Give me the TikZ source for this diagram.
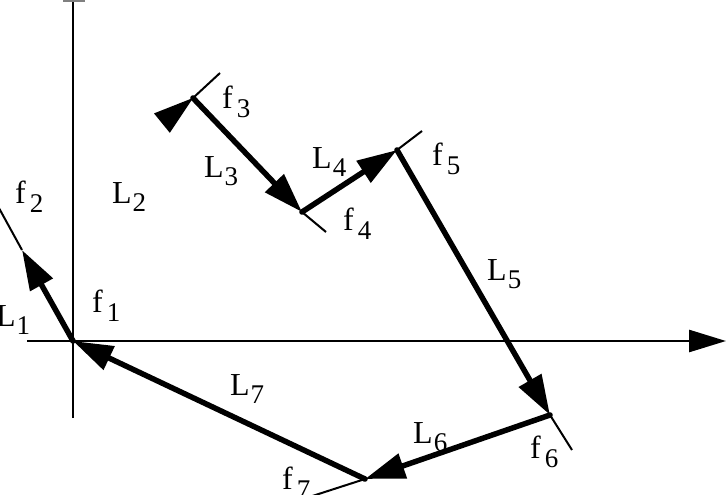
\documentclass[tikz,border=0pt]{standalone}
\usepackage{fontspec}
\setmainfont{Liberation Serif}
\usetikzlibrary{arrows.meta}
\newcommand\fsub[1]{f\kern4pt\raisebox{-9pt}{\fontsize{27}{27}\selectfont #1}}
\newcommand\Lsub[1]{L\kern1pt\raisebox{-8pt}{\fontsize{27}{27}\selectfont #1}}
\begin{document}
\begin{tikzpicture}[x=1pt,y=-1pt,
  link/.style={line width=5.5pt,-{Triangle[length=40pt,width=25pt]}},
  thinline/.style={line width=2pt},
  axisline/.style={line width=2.7pt},
  lab/.style={inner sep=0pt,anchor=base west,font=\fontsize{32}{36}\selectfont}]
\useasboundingbox (0,0) rectangle (728,495);
% joints
\coordinate (O) at (73,341);
\coordinate (P2) at (22,250);
\coordinate (P3) at (193,98);
\coordinate (P4) at (302,212);
\coordinate (P5) at (397,150);
\coordinate (P6) at (550,415);
\coordinate (P7) at (365,479);
% thin frame-line ends
\coordinate (E2) at (-6,199);
\coordinate (E3) at (220,73);
\coordinate (E4) at (326,232);
\coordinate (E5) at (422,131);
\coordinate (E6) at (572,450);
\coordinate (E7) at (300,500);
% L2 arrowhead base
\coordinate (B2a) at (169.8,132.8);
\coordinate (B2b) at (154.0,113.4);
% axes
\coordinate (XL) at (27,341);
\coordinate (XR) at (726,341);
\coordinate (YT) at (73,0);
\coordinate (YB) at (73,418);
\coordinate (TkL) at (63,1);
\coordinate (TkR) at (85,1);
\draw[axisline] (YB) -- (YT);
\draw[line width=1.5pt,gray] (TkL) -- (TkR);
\draw[axisline,-{Triangle[length=37pt,width=22pt]}] (XL) -- (XR);
% thin frame lines
\draw[thinline] (P2) -- (E2);
\draw[thinline] (P3) -- (E3);
\draw[thinline] (P4) -- (E4);
\draw[thinline] (P5) -- (E5);
\draw[thinline] (P6) -- (E6);
\draw[thinline] (P7) -- (E7);
% links
\draw[link] (O) -- (P2);
\fill (P3) -- (B2a) -- (B2b) -- cycle;
\draw[link] (P3) -- (P4);
\draw[link] (P4) -- (P5);
\draw[link] (P5) -- (P6);
\draw[link] (P6) -- (P7);
\draw[link] (P7) -- (O);
\foreach \p in {O,P3,P4,P5,P6,P7} \fill (\p) circle (2.8pt);
% labels
\node[lab] (lf1) at (92,312) {\fsub{1}};
\node[lab] (lf2) at (15,203) {\fsub{2}};
\node[lab] (lf3) at (222,108) {\fsub{3}};
\node[lab] (lf4) at (343,230) {\fsub{4}};
\node[lab] (lf5) at (432,165) {\fsub{5}};
\node[lab] (lf6) at (530,458) {\fsub{6}};
\node[lab] (lf7) at (282,489) {\fsub{7}};
\node[lab] (lL1) at (-4,326) {\Lsub{1}};
\node[lab] (lL2) at (112,203) {\Lsub{2}};
\node[lab] (lL3) at (204,177) {\Lsub{3}};
\node[lab] (lL4) at (312,168) {\Lsub{4}};
\node[lab] (lL5) at (487,280) {\Lsub{5}};
\node[lab] (lL6) at (413,443) {\Lsub{6}};
\node[lab] (lL7) at (230,395) {\Lsub{7}};
\end{tikzpicture}
\end{document}
